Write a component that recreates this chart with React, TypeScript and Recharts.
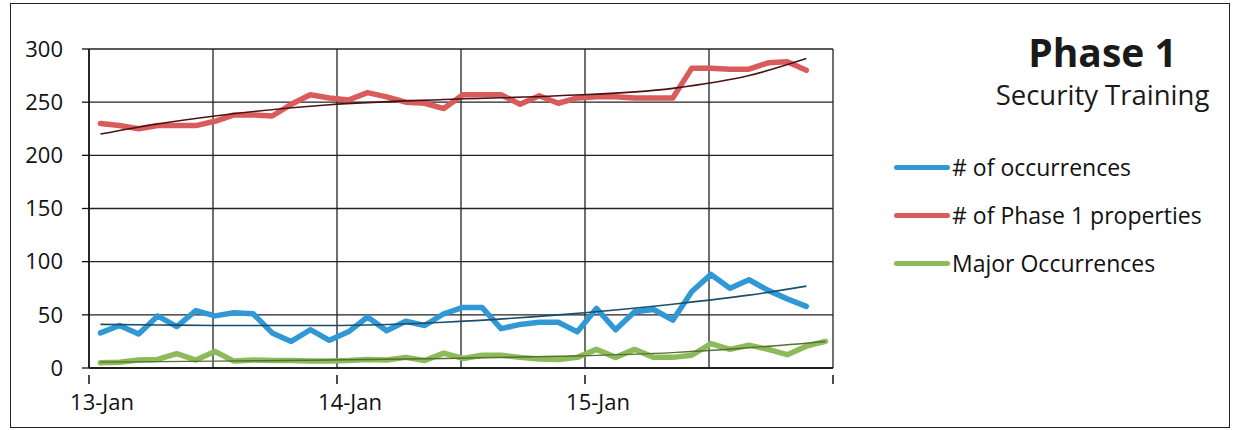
import React from 'react'
import {
  LineChart,
  Line,
  XAxis,
  YAxis,
  CartesianGrid,
  Legend,
} from 'recharts'

// one reading every ~1.85 h, 13 readings per day
const occurrences = [33, 40, 32, 49, 39, 54, 49, 52, 51, 33, 25, 36, 26, 34, 48, 35, 44, 40, 51, 57, 57, 37, 41, 43, 43, 34, 56, 36, 53, 55, 45, 72, 88, 75, 83, 73, 65, 58]
const properties = [230, 228, 225, 228, 228, 228, 232, 238, 238, 237, 248, 257, 254, 252, 259, 255, 250, 249, 244, 257, 257, 257, 248, 256, 249, 254, 255, 255, 254, 254, 254, 282, 282, 281, 281, 287, 288, 280]
const majorOccurrences = [5, 5.5, 7.5, 8, 13.5, 7.5, 15.5, 6.5, 7.5, 7, 7, 6.5, 6.5, 7, 8, 7.5, 10, 7, 14, 9, 12, 12, 10, 8.5, 8, 10, 17.5, 10, 17.5, 10, 10, 12, 23, 17.5, 21.5, 17.5, 12.5, 20.5, 25]

// trendlines at a few readings
const trendIdx = [0, 3, 6, 12, 18, 24, 30, 34, 37]
const occTrend = [41, 40.5, 40, 40, 43, 50, 60, 68.5, 77]
const propTrend = [220, 229.5, 237, 247.5, 252.5, 256, 263, 275, 291]
const majorTrendIdx = [0, 3, 6, 12, 18, 24, 30, 34, 38]
const majorTrend = [5.5, 6, 6.5, 7.5, 9, 11, 14.5, 19, 25]

// half-day gridlines (in readings), labels on whole days
const xTicks = [-0.6, 5.9, 12.4, 18.9, 25.4, 31.9, 38.4]
const xLabels = ['13-Jan', '', '14-Jan', '', '15-Jan', '', '']
const yTicks = [0, 50, 100, 150, 200, 250, 300]

const series = [
  { key: 'occ', name: '# of occurrences', color: '#3099d5' },
  { key: 'prop', name: '# of Phase 1 properties', color: '#da5b5b' },
  { key: 'major', name: 'Major Occurrences', color: '#8dbb5b' },
]

const FONT = '"Open Sans", Lato, sans-serif'

const data = majorOccurrences.map((m, i) => {
  const t = trendIdx.indexOf(i)
  const mt = majorTrendIdx.indexOf(i)
  return {
    idx: i,
    occ: occurrences[i] ?? null,
    prop: properties[i] ?? null,
    major: m,
    occTrend: t >= 0 ? occTrend[t] : null,
    propTrend: t >= 0 ? propTrend[t] : null,
    majorTrend: mt >= 0 ? majorTrend[mt] : null,
  }
})

function DayTick(props: any) {
  const { x, y, index } = props
  const label = xLabels[index] ?? ''
  return (
    <g>
      {index % 2 === 0 && <line x1={x} y1={y - 1} x2={x} y2={y + 8} stroke="#111" strokeWidth={1.5} />}
      {label && (
        <text x={x + 13} y={y + 34} textAnchor="middle" fontSize={22} fill="#111" fontFamily={FONT}>
          {label}
        </text>
      )}
    </g>
  )
}

function LegendBox() {
  return (
    <div style={{ fontFamily: FONT }}>
      {series.map((s) => (
        <div key={s.key} style={{ display: 'flex', alignItems: 'center', height: 48 }}>
          <span style={{ display: 'inline-block', width: 56, height: 5, borderRadius: 3, background: s.color }} />
          <span style={{ fontSize: 23, color: '#111', marginLeft: 2 }}>{s.name}</span>
        </div>
      ))}
    </div>
  )
}

export default function App() {
  return (
    <div style={{ position: 'absolute', left: 0, top: 0, width: 1234, height: 430, background: '#fff' }}>
      <div style={{ position: 'absolute', left: 10, top: 3, width: 1218, height: 423, border: '1.5px solid #222' }} />
      <div style={{ position: 'absolute', left: 980, width: 245, top: 27, textAlign: 'center', fontFamily: FONT, color: '#1a1a1a' }}>
        <div style={{ fontSize: 39, fontWeight: 700, lineHeight: '50px' }}>Phase 1</div>
        <div style={{ fontSize: 27.5, lineHeight: '34px', marginTop: 1 }}>Security Training</div>
      </div>
      <LineChart
        width={1234}
        height={430}
        data={data}
        margin={{ top: 49, right: 401, left: 0, bottom: 32 }}
        style={{ position: 'absolute', left: 0, top: 0 }}
      >
        <CartesianGrid stroke="#222" strokeWidth={1.3} horizontalValues={yTicks} verticalValues={xTicks} />
        <XAxis
          type="number"
          dataKey="idx"
          domain={[-0.6, 38.4]}
          ticks={xTicks}
          interval={0}
          height={30}
          axisLine={{ stroke: '#111', strokeWidth: 1.5 }}
          tickLine={false}
          tick={<DayTick />}
        />
        <YAxis
          domain={[0, 300]}
          ticks={yTicks}
          width={89}
          interval={0}
          tickSize={7}
          tickMargin={19}
          axisLine={{ stroke: '#111', strokeWidth: 1.5 }}
          tickLine={{ stroke: '#111', strokeWidth: 1.3 }}
          tick={{ fontSize: 22, fill: '#111', fontFamily: FONT }}
        />
        <Legend
          layout="vertical"
          align="center"
          verticalAlign="middle"
          content={<LegendBox />}
          wrapperStyle={{ left: 894, top: 143, width: 330 }}
        />
        {series.map((s) => (
          <Line
            key={s.key}
            type="linear"
            dataKey={s.key}
            name={s.name}
            stroke={s.color}
            strokeWidth={5.5}
            strokeLinejoin="round"
            strokeLinecap="round"
            dot={false}
            isAnimationActive={false}
          />
        ))}
        <Line type="monotone" dataKey="propTrend" stroke="#4a1212" strokeWidth={1.6} dot={false} connectNulls legendType="none" isAnimationActive={false} />
        <Line type="monotone" dataKey="occTrend" stroke="#1c4e6c" strokeWidth={1.6} dot={false} connectNulls legendType="none" isAnimationActive={false} />
        <Line type="monotone" dataKey="majorTrend" stroke="#55702f" strokeWidth={1.4} dot={false} connectNulls legendType="none" isAnimationActive={false} />
      </LineChart>
    </div>
  )
}
